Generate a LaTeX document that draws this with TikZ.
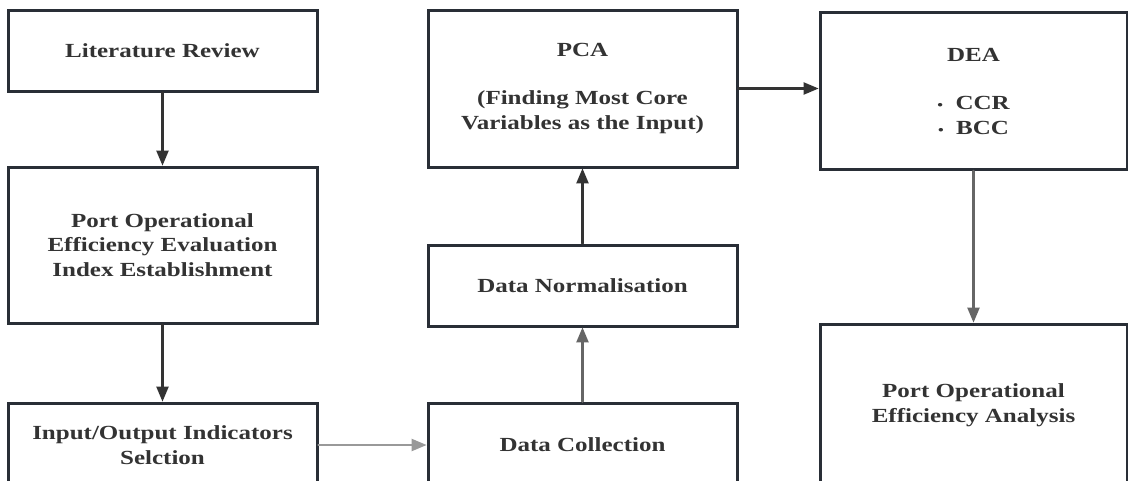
\documentclass[tikz,border=0pt]{standalone}
\usepackage{fontspec}
\setmainfont{Liberation Serif}
\newfontfamily\boxfont{Liberation Serif}[FakeStretch=1.25]
\usetikzlibrary{arrows}

\begin{document}
\begin{tikzpicture}[line cap=round,line join=round,>=triangle 45,x=1pt,y=-1pt]
\definecolor{zzttqq}{rgb}{0.16,0.18,0.21}
\definecolor{sqsqsq}{rgb}{0.2,0.2,0.2}
\definecolor{wqwqwq}{rgb}{0.4,0.4,0.4}
\definecolor{aqaqaq}{rgb}{0.6,0.6,0.6}
\tikzset{box/.style={draw=zzttqq,line width=3pt,line join=miter,fill=white,minimum width=309pt,inner sep=0pt,align=center,text=sqsqsq,font=\boxfont\fontsize{20}{24.5}\selectfont\bfseries}}
\newcommand{\bdot}{{\fontsize{13}{13}\selectfont\textbullet}\ \ }
\useasboundingbox (0,0) rectangle (1128,480);
\clip (0,0) rectangle (1128,480);
% left column
\node[box,minimum height=81pt] (lit) at (162.5,50.5) {Literature Review};
\node[box,minimum height=156pt] (poe) at (162.5,245) {Port Operational\\Efficiency Evaluation\\Index Establishment};
\node[box,minimum height=84pt] (ios) at (162.5,445) {Input/Output Indicators\\Selction};
% middle column
\node[box,minimum height=157pt] (pca) at (582.5,88.5) {PCA\\[24pt](Finding Most Core\\Variables as the Input)};
\node[box,minimum height=81pt] (norm) at (582.5,285.5) {Data Normalisation};
\node[box,minimum height=84pt] (coll) at (582.5,445) {Data Collection};
% right column
\node[box,minimum width=307pt,minimum height=157pt] (dea) at (973.5,91) {DEA\\[24pt]\bdot CCR\\\bdot BCC};
\node[box,minimum width=307pt,minimum height=162pt] (ana) at (973.5,405) {Port Operational\\Efficiency Analysis};
% flow
\draw [->,line width=2.5pt,color=sqsqsq] (lit) -- (poe);
\draw [->,line width=2.5pt,color=sqsqsq] (poe) -- (ios);
\draw [->,line width=2.5pt,color=aqaqaq] (ios) -- (coll);
\draw [->,line width=2.5pt,color=wqwqwq] (coll) -- (norm);
\draw [->,line width=2.5pt,color=sqsqsq] (norm) -- (pca);
\draw [->,line width=2.5pt,color=sqsqsq] (pca.east) -- (dea.west |- pca.east);
\draw [->,line width=2.5pt,color=wqwqwq] (dea) -- (ana);
\end{tikzpicture}
\end{document}
